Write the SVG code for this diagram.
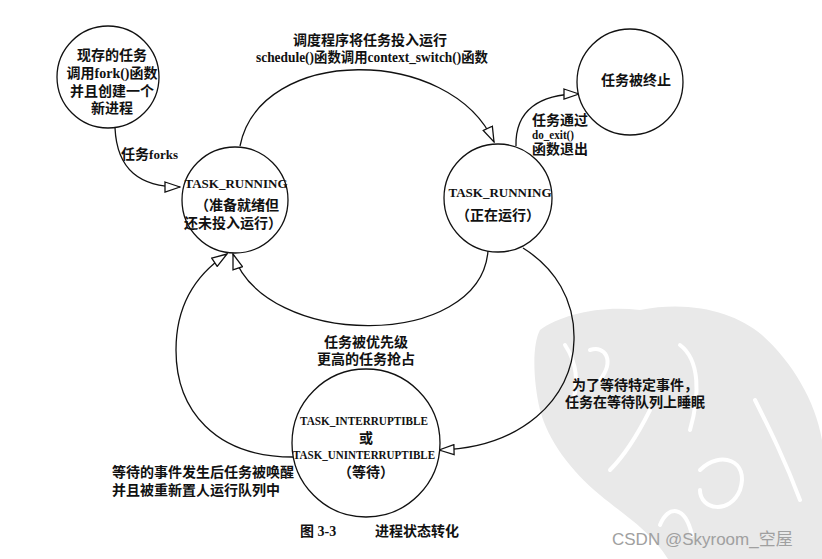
<svg xmlns="http://www.w3.org/2000/svg" width="822" height="559" viewBox="0 0 822 559">
<style>
.node{fill:#fff;stroke:#111;stroke-width:1.3}
.edge{fill:none;stroke:#111;stroke-width:1.3}
.t{font-family:"Liberation Serif","Noto Sans CJK SC",serif;font-weight:bold;fill:#111;font-size:13px}
.c{font-family:"Liberation Serif","Noto Sans CJK SC",serif;font-weight:bold;fill:#111;font-size:14px}
.m{text-anchor:middle}
.wm{font-family:"Liberation Sans","Noto Sans CJK SC",sans-serif;font-size:17px;fill:#a0a0a0}
</style>
<defs>
<marker id="arr" viewBox="0 0 17 12" markerWidth="17" markerHeight="12" refX="16" refY="6" orient="auto" markerUnits="userSpaceOnUse">
<path d="M1,1 L16,6 L1,11 Z" fill="#fff" stroke="#111" stroke-width="1.3"/>
</marker>
</defs>
<rect width="822" height="559" fill="#fff"/>
<g id="watermark-blob">
<path d="M540,330 C560,315 600,305 640,310 C690,300 735,312 762,335 C792,362 815,400 822,440 L822,559 L668,559 C650,530 620,512 600,495 C570,470 548,440 540,410 C533,380 532,345 540,330 Z" fill="#e9e9e9"/>
<g fill="none" stroke="#fff" stroke-width="4" stroke-linecap="round">
<path d="M565,345 C575,360 580,380 572,405"/>
<path d="M590,350 C605,345 615,360 600,380"/>
<path d="M680,345 C700,360 700,395 690,430"/>
<path d="M650,410 C640,430 625,455 610,470"/>
<path d="M700,470 C720,450 750,460 740,490 C730,515 700,510 700,490"/>
<path d="M755,400 C770,430 785,460 800,500"/>
<path d="M660,525 C668,505 685,505 692,535"/>
</g>
</g>
<g id="connectors">
<path class="edge" d="M115,128 C117,170 140,187 180,187" marker-end="url(#arr)"/>
<path class="edge" d="M240,146 C260,45 450,45 494,142" marker-end="url(#arr)"/>
<path class="edge" d="M516,146 C515,110 540,94 579,94" marker-end="url(#arr)"/>
<path class="edge" d="M488,251 C480,350 265,350 233,254" marker-end="url(#arr)"/>
<path class="edge" d="M293,457 C215,457 176,410 176,350 C176,305 195,275 227,254" marker-end="url(#arr)"/>
<path class="edge" d="M523,248 C555,268 575,300 574,340 C573,400 520,448 439,450" marker-end="url(#arr)"/>
</g>
<g id="edge-labels">
<text class="c" x="178" y="159" text-anchor="end">任务<tspan class="t" font-size="13">forks</tspan></text>
<text class="c m" x="370" y="45">调度程序将任务投入运行</text>
<text class="c m" x="372" y="62" textLength="232" lengthAdjust="spacingAndGlyphs">schedule()函数调用context_switch()函数</text>
<text class="c" x="532" y="125">任务通过</text>
<text class="t" x="532" y="139" textLength="42" lengthAdjust="spacingAndGlyphs">do_exit()</text>
<text class="c" x="532" y="154">函数退出</text>
<text class="c m" x="366" y="347">任务被优先级</text>
<text class="c m" x="366" y="364">更高的任务抢占</text>
<text class="c" x="572" y="390">为了等待特定事件，</text>
<text class="c" x="565" y="407">任务在等待队列上睡眠</text>
<text class="c" x="112" y="477">等待的事件发生后任务被唤醒</text>
<text class="c" x="112" y="495">并且被重新置人运行队列中</text>
</g>
<g id="node-fork">
<circle class="node" cx="108" cy="77" r="51"/>
<text class="c m" x="112" y="60">现存的任务</text>
<text class="c m" x="112" y="78">调用fork()函数</text>
<text class="c m" x="112" y="96">并且创建一个</text>
<text class="c m" x="112" y="113">新进程</text>
</g>
<g id="node-ready">
<circle class="node" cx="235" cy="200" r="53"/>
<text class="t m" x="236" y="188">TASK_RUNNING</text>
<text class="c m" x="237" y="210">（准备就绪但</text>
<text class="c m" x="233" y="228">还未投入运行）</text>
</g>
<g id="node-running">
<circle class="node" cx="498" cy="198" r="54"/>
<text class="t m" x="500" y="197">TASK_RUNNING</text>
<text class="c m" x="498" y="220">（正在运行）</text>
</g>
<g id="node-exit">
<circle class="node" cx="630" cy="82" r="53"/>
<text class="c m" x="636" y="85">任务被终止</text>
</g>
<g id="node-wait">
<circle class="node" cx="366" cy="443" r="74"/>
<text class="t m" x="364" y="425" textLength="128" lengthAdjust="spacingAndGlyphs">TASK_INTERRUPTIBLE</text>
<text class="c m" x="366" y="443">或</text>
<text class="t m" x="364" y="459" textLength="142" lengthAdjust="spacingAndGlyphs">TASK_UNINTERRUPTIBLE</text>
<text class="c m" x="366" y="477">（等待）</text>
</g>
<g id="caption">
<text class="c" x="300" y="536" font-size="15">图 3-3</text>
<text class="c" x="375" y="536" font-size="15">进程状态转化</text>
</g>
<text class="wm" x="612" y="545">CSDN @Skyroom_空屋</text>
</svg>
